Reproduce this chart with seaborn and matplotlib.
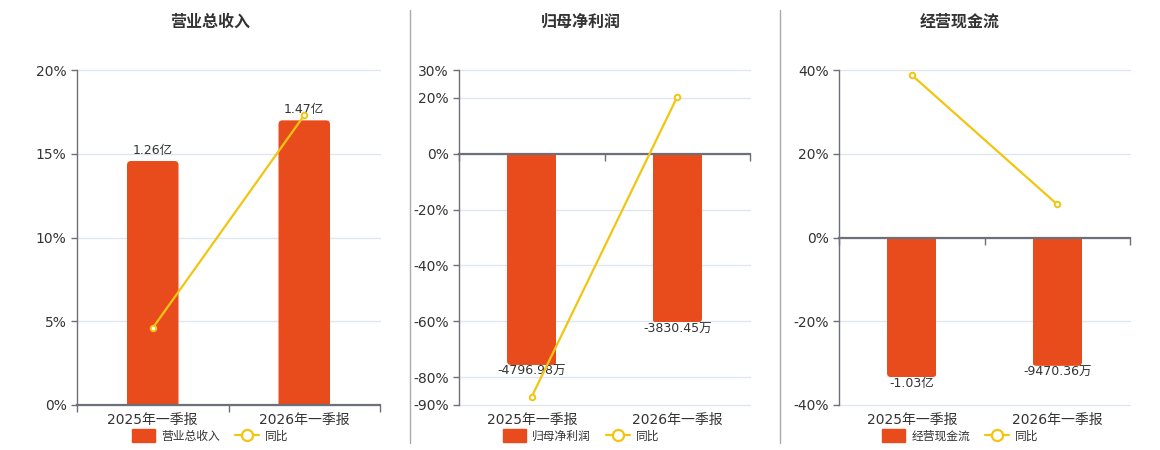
import pandas as pd
import matplotlib.pyplot as plt
import seaborn as sns
from matplotlib.lines import Line2D
from matplotlib.patches import Patch, FancyBboxPatch

sns.set_style("white")
plt.rcParams['font.family'] = ['DejaVu Sans', 'Noto Sans CJK SC']

# ---- data (bar values in 万, yoy in %) ----
categories = ['2025年一季报', '2026年一季报']

rev_values = [12600, 14700]
rev_labels = ['1.26亿', '1.47亿']
rev_yoy = [4.6, 17.3]

np_values = [-4796.98, -3830.45]
np_labels = ['-4796.98万', '-3830.45万']
np_yoy = [-87.0, 20.4]

cf_values = [-10300, -9470.36]
cf_labels = ['-1.03亿', '-9470.36万']
cf_yoy = [38.8, 7.9]

titles = ['营业总收入', '归母净利润', '经营现金流']

BAR = '#E84C1D'
LINE = '#F2C511'
AXIS = '#6E7079'
GRID = '#E0E6F1'
TEXT = '#333333'

W, H = 1160, 450
fig = plt.figure(figsize=(W / 100, H / 100), dpi=100)

panels = [
    # values, labels, yoy, percent ylim, yticks, 万 per %, axes px (left, right), center px
    (rev_values, rev_labels, rev_yoy, (0, 20), [0, 5, 10, 15, 20], 865, (77, 380), 210),
    (np_values, np_labels, np_yoy, (-90, 30), [-90, -80, -60, -40, -20, 0, 20, 30], 63.4, (459, 750), 581),
    (cf_values, cf_labels, cf_yoy, (-40, 40), [-40, -20, 0, 20, 40], 309, (839, 1130), 960),
]

for i, (vals, labs, yoy, ylim, yticks, k, (xl, xr), cx) in enumerate(panels):
    top, bottom = 70, 405
    ax = fig.add_axes([xl / W, 1 - bottom / H, (xr - xl) / W, (bottom - top) / H])
    axb = ax.twinx()
    axl = ax.twinx()

    df = pd.DataFrame({'period': categories, 'value': vals, 'yoy': yoy})

    # bars
    sns.barplot(data=df, x='period', y='value', color=BAR, width=0.34,
                saturation=1, ax=axb)
    axb.set_ylim(ylim[0] * k, ylim[1] * k)

    # round the far end of each bar (clip a rounded box with the original bar)
    px_x = (xr - xl) / 2.0
    px_y = (bottom - top) / (k * (ylim[1] - ylim[0]))
    rx = 4 / px_x
    ry = 4 / px_y
    for bar in list(axb.patches):
        x0, w, h = bar.get_x(), bar.get_width(), bar.get_height()
        if h >= 0:
            lo, hh = -ry, h + ry
        else:
            lo, hh = h, -h + ry
        fb = FancyBboxPatch((x0, lo), w, hh,
                            boxstyle=f"round,pad=0,rounding_size={rx}",
                            mutation_aspect=px_x / px_y,
                            facecolor=BAR, edgecolor='none')
        axb.add_patch(fb)
        fb.set_clip_path(bar)
        bar.set_visible(False)

    for xc, lab, v in zip(range(len(categories)), labs, vals):
        if v >= 0:
            axb.annotate(lab, (xc, v), xytext=(0, 3), textcoords='offset points',
                         ha='center', va='bottom', fontsize=9, color=TEXT)
        else:
            axb.annotate(lab, (xc, v), xytext=(0, 0), textcoords='offset points',
                         ha='center', va='top', fontsize=9, color=TEXT)

    # yoy line
    sns.pointplot(data=df, x='period', y='yoy', color=LINE, ax=axl,
                  markers='o', markersize=4, linewidth=1.6,
                  markerfacecolor='white', markeredgecolor=LINE, markeredgewidth=1.4)
    axl.set_ylim(*ylim)

    # main percent axis
    ax.set_ylim(*ylim)
    ax.set_yticks(yticks)
    ax.set_yticklabels([f'{t}%' for t in yticks])
    ax.grid(axis='y', color=GRID, lw=1)
    for gl in ax.get_ygridlines():
        gl.set_clip_on(False)
    ax.set_axisbelow(True)
    for s in ['top', 'right', 'bottom']:
        ax.spines[s].set_visible(False)
    ax.spines['left'].set_color(AXIS)
    ax.spines['left'].set_linewidth(1)
    ax.tick_params(axis='y', colors=AXIS, labelcolor=TEXT, labelsize=10, length=4, width=1)
    ax.tick_params(axis='x', length=0, labelsize=10, labelcolor=TEXT, pad=6)

    for a in (axb, axl):
        a.set_xlabel('')
        a.set_ylabel('')
        a.set_yticks([])
        for s in a.spines.values():
            s.set_visible(False)
        a.tick_params(axis='x', length=0)

    for a in (ax, axb, axl):
        a.set_xlim(-0.5, 1.5)

    # zero axis line with category boundary ticks
    zfrac = (0 - ylim[0]) / (ylim[1] - ylim[0])
    sec = axl.secondary_xaxis(zfrac)
    sec.set_alignment('bottom')
    sec.set_xticks([-0.5, 0.5, 1.5])
    sec.tick_params(labelbottom=False, labeltop=False, length=5, width=1,
                    color=AXIS, direction='out')
    sec.spines['bottom'].set_color(AXIS)
    sec.spines['bottom'].set_linewidth(1.6)
    for s in ['top', 'left', 'right']:
        sec.spines[s].set_visible(False)

    # title
    fig.text(cx / W, 1 - 22 / H, titles[i], ha='center', va='center',
             fontsize=11.5, fontweight='bold', color=TEXT)

    # legend
    handles = [
        Patch(facecolor=BAR, edgecolor=BAR, label=titles[i]),
        Line2D([], [], color=LINE, lw=1.6, marker='o', markersize=8,
               markerfacecolor='white', markeredgecolor=LINE, markeredgewidth=1.6, label='同比'),
    ]
    ax.legend(handles=handles, ncol=2, loc='center',
              bbox_to_anchor=(cx / W, 1 - 436 / H), bbox_transform=fig.transFigure,
              frameon=False, fontsize=8.5, handlelength=2.0, handleheight=1.2,
              columnspacing=1.3, handletextpad=0.5, labelcolor=TEXT)

# panel separators
for xs in (410, 780):
    fig.add_artist(Line2D([xs / W, xs / W], [1 - 443 / H, 1 - 10 / H],
                          color='#AAAAAA', lw=1, transform=fig.transFigure))

fig.savefig('out.png', dpi=100)
